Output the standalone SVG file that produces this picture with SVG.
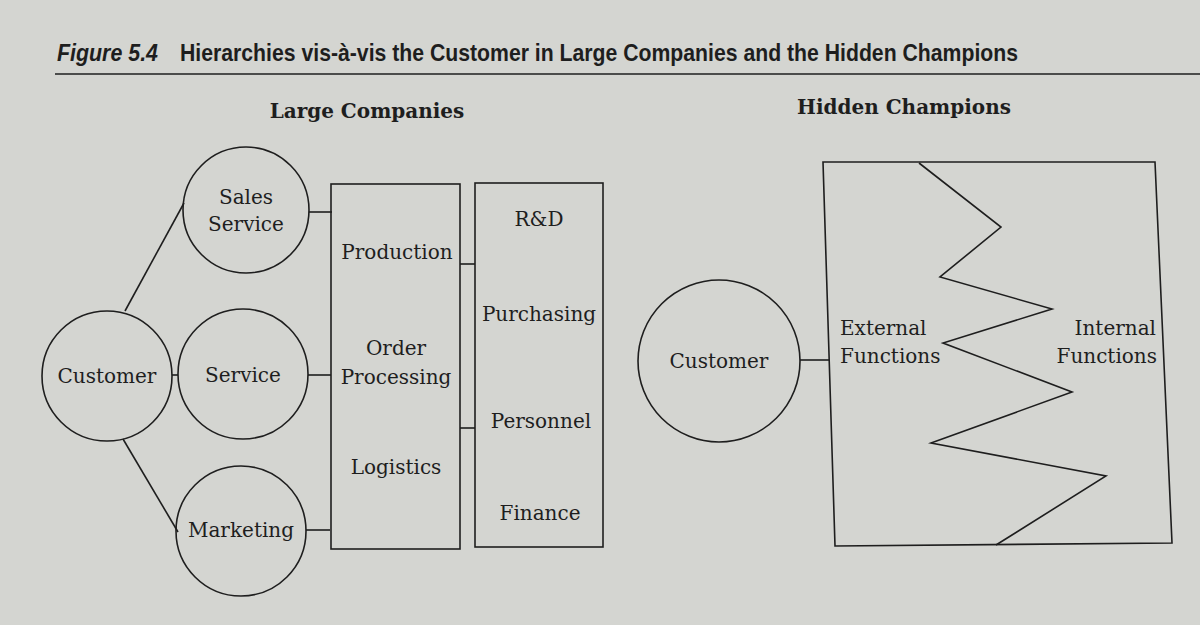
<svg xmlns="http://www.w3.org/2000/svg" width="1200" height="625" viewBox="0 0 1200 625">
<style>
.bg{fill:#d4d5d1}
.s{fill:none;stroke:#1e1e1e;stroke-width:1.6}
.t{font-family:"DejaVu Serif","Liberation Serif",serif;font-size:20px;fill:#1e1e1e;text-anchor:middle}
.ts{font-family:"DejaVu Serif","Liberation Serif",serif;font-size:20px;fill:#1e1e1e;text-anchor:start}
.te{font-family:"DejaVu Serif","Liberation Serif",serif;font-size:20px;fill:#1e1e1e;text-anchor:end}
.h{font-family:"DejaVu Serif","Liberation Serif",serif;font-size:20px;font-weight:bold;fill:#1e1e1e;text-anchor:middle}
.fig{font-family:"Liberation Sans",Arial,sans-serif;font-size:24px;font-weight:bold;fill:#1e1e1e}
</style>
<rect class="bg" x="0" y="0" width="1200" height="625"/>
<g id="title">
<text class="fig" x="57" y="61" font-style="italic" textLength="101" lengthAdjust="spacingAndGlyphs">Figure 5.4</text>
<text class="fig" x="180" y="61" textLength="838" lengthAdjust="spacingAndGlyphs">Hierarchies vis-à-vis the Customer in Large Companies and the Hidden Champions</text>
<line x1="55" y1="74" x2="1200" y2="74" stroke="#1e1e1e" stroke-width="1.6"/>
</g>
<text class="h" x="367" y="118">Large Companies</text>
<text class="h" x="904" y="114">Hidden Champions</text>
<g id="connectors" class="s">
<line x1="125" y1="311" x2="184" y2="203"/>
<line x1="123" y1="439" x2="178" y2="532"/>
<line x1="172" y1="375" x2="178" y2="375"/>
<line x1="309" y1="212" x2="332" y2="212"/>
<line x1="308" y1="375" x2="331" y2="375"/>
<line x1="306" y1="530" x2="330" y2="530"/>
<line x1="460" y1="264" x2="475" y2="264"/>
<line x1="460" y1="428" x2="475" y2="428"/>
<line x1="800" y1="360" x2="829" y2="360"/>
</g>
<g id="lc-customer"><circle class="s" cx="107" cy="376" r="65"/><text class="t" x="107" y="383">Customer</text></g>
<g id="sales-service"><circle class="s" cx="246" cy="210" r="63"/><text class="t" x="246" y="204">Sales</text><text class="t" x="246" y="231">Service</text></g>
<g id="service"><circle class="s" cx="243" cy="374" r="65"/><text class="t" x="243" y="382">Service</text></g>
<g id="marketing"><circle class="s" cx="241" cy="531" r="65"/><text class="t" x="241" y="537">Marketing</text></g>
<g id="external-box"><rect class="s" x="331" y="184" width="129" height="365"/>
<text class="t" x="397" y="259">Production</text>
<text class="t" x="396" y="355">Order</text>
<text class="t" x="396" y="384">Processing</text>
<text class="t" x="396" y="474">Logistics</text></g>
<g id="internal-box"><rect class="s" x="475" y="183" width="128" height="364"/>
<text class="t" x="539" y="226">R&amp;D</text>
<text class="t" x="539" y="321">Purchasing</text>
<text class="t" x="541" y="428">Personnel</text>
<text class="t" x="540" y="520">Finance</text></g>
<g id="hc-customer"><circle class="s" cx="719" cy="361" r="81"/><text class="t" x="719" y="368">Customer</text></g>
<g id="hc-box"><polygon class="s" points="823,162 1155,162 1172,543 835,546"/>
<polyline class="s" points="919,163 1001,227 940,277 1052,309 943,343 1072,392 931,443 1106,476 996,545"/>
<text class="ts" x="840" y="335">External</text>
<text class="ts" x="840" y="363">Functions</text>
<text class="te" x="1156" y="335">Internal</text>
<text class="te" x="1157" y="363">Functions</text></g>
</svg>
